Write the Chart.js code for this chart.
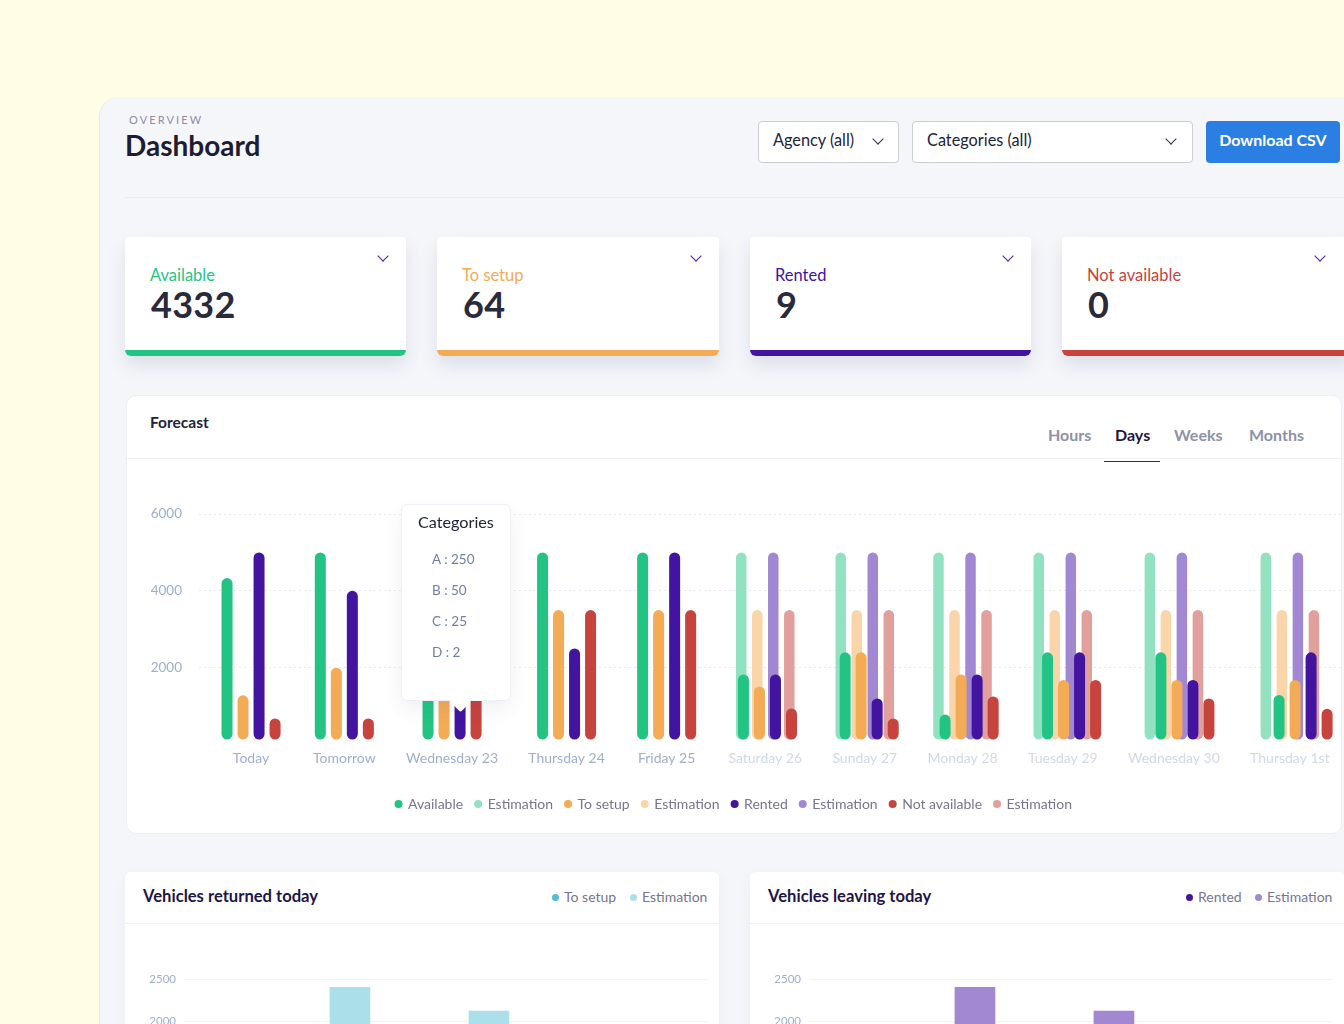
<!DOCTYPE html>
<html>
<head>
<meta charset="utf-8">
<script src="https://cdn.jsdelivr.net/npm/chart.js@4"></script>
<style>
* { box-sizing: border-box; }
html, body { margin: 0; height: 100%; overflow: hidden; background: #fffde6; font-family: Lato, sans-serif; }
#panel { left: 99px; top: 97px; width: 1400px; height: 1100px; background: #f4f6fa; border-radius: 20px 0 0 0; border-left: 1px solid #e6e9f0; position: absolute; }
.el { position: absolute; white-space: nowrap; }
.card { position: absolute; background: #fff; }
.stat { top: 237px; height: 119px; border-radius: 4px 4px 6px 6px; box-shadow: 0 10px 18px rgba(60,70,110,.12); overflow: hidden; }
.stat .bar { position: absolute; left: 0; right: 0; bottom: 0; height: 6px; }
.stat .lab { position: absolute; left: 25px; top: 28px; font-size: 16.5px; }
.stat .num { position: absolute; left: 26px; top: 45px; font-size: 36px; font-weight: 700; color: #2a2a3c; letter-spacing: .3px; }
.chev { position: absolute; width: 8px; height: 8px; border-right: 1.5px solid #4a1fa8; border-bottom: 1.5px solid #4a1fa8; transform: rotate(45deg) scale(1,1); }
.select { top: 121px; height: 42px; background: #fff; border: 1px solid #c9cedb; border-radius: 4px; font-size: 16.3px; color: #23233c; line-height: 35px; padding-left: 14px; }
.select .chev { border-color: #30304a; top: 13px; }
.tab { top: 425px; font-size: 16px; font-weight: 700; color: #8d92a6; }
.smallcard { top: 872px; height: 300px; border-radius: 6px; box-shadow: 0 4px 14px rgba(60,70,110,.05); }
.smallcard .line { position: absolute; left: 0; right: 0; top: 51px; height: 1px; background: #eceff6; }
.smallcard .ttl { position: absolute; left: 18px; top: 14px; font-size: 16.6px; font-weight: 700; color: #1f1547; }
.lg { position: absolute; top: 16px; font-size: 14px; color: #77758f; white-space: nowrap; }
.dot { position: absolute; top: 22px; width: 7px; height: 7px; border-radius: 50%; }
canvas { display: block; }
#tip { position: absolute; left: 401px; top: 504px; width: 110px; height: 197px; background: #fff; border: 1px solid #edf0f7; border-radius: 6px; box-shadow: 0 8px 18px rgba(60,70,110,.08); z-index: 5; }
#tip:after { content: ""; position: absolute; left: 51px; top: 189px; width: 15px; height: 15px; background: #fff; transform: rotate(45deg); border-radius: 2px; }
#tip .t { position: absolute; left: 16px; top: 7px; font-size: 16.2px; color: #22243c; }
#tip .r { position: absolute; left: 30px; font-size: 13.5px; color: #6f7fa3; }
</style>
</head>
<body>
<div id="panel"></div>

<div class="el" style="left:129px;top:113px;font-size:11px;letter-spacing:2.1px;color:#8f8da5">OVERVIEW</div>
<div class="el" style="left:125px;top:128px;font-size:28px;font-weight:700;color:#1e1c30">Dashboard</div>

<div class="select el" style="left:758px;width:141px">Agency (all)<span class="chev" style="left:115px"></span></div>
<div class="select el" style="left:912px;width:281px">Categories (all)<span class="chev" style="left:254px"></span></div>
<div class="el" style="left:1206px;top:121px;width:134px;height:42px;background:#2b7fe3;border-radius:4px;color:#fff;font-size:16px;font-weight:700;text-align:center;line-height:37px">Download CSV</div>
<div class="el" style="left:125px;top:197px;width:1219px;height:1px;background:#e8ebf3"></div>

<div class="card stat" style="left:125px;width:281px"><div class="lab" style="color:#25c486">Available</div><div class="num">4332</div><span class="chev" style="left:254px;top:15px"></span><div class="bar" style="background:#23c483"></div></div>
<div class="card stat" style="left:437px;width:282px"><div class="lab" style="color:#f3ab56">To setup</div><div class="num">64</div><span class="chev" style="left:255px;top:15px"></span><div class="bar" style="background:#f3ab56"></div></div>
<div class="card stat" style="left:750px;width:281px"><div class="lab" style="color:#43149f">Rented</div><div class="num">9</div><span class="chev" style="left:254px;top:15px"></span><div class="bar" style="background:#43149f"></div></div>
<div class="card stat" style="left:1062px;width:290px"><div class="lab" style="color:#c6433e">Not available</div><div class="num">0</div><span class="chev" style="left:254px;top:15px"></span><div class="bar" style="background:#c6433e"></div></div>

<div class="card" style="left:126px;top:395px;width:1216px;height:439px;border:1px solid #eceff6;border-radius:10px"></div>
<div class="el" style="left:127px;top:458px;width:1215px;height:1px;background:#eef0f6"></div>
<div class="el" style="left:150px;top:413px;font-size:15.5px;font-weight:700;color:#23233c">Forecast</div>
<div class="el tab" style="left:1048px">Hours</div>
<div class="el tab" style="left:1115px;color:#1f1547">Days</div>
<div class="el tab" style="left:1174px">Weeks</div>
<div class="el tab" style="left:1249px">Months</div>
<div class="el" style="left:1104px;top:461px;width:56px;height:1px;background:#43149f"></div>

<div style="position:absolute;left:127px;top:460px;width:1214px;height:373px"><canvas id="forecast"></canvas></div>

<div id="tip">
  <div class="t">Categories</div>
  <div class="r" style="top:46px">A : 250</div>
  <div class="r" style="top:77px">B : 50</div>
  <div class="r" style="top:108px">C : 25</div>
  <div class="r" style="top:139px">D : 2</div>
</div>

<div class="card smallcard" style="left:125px;width:594px">
  <div class="line"></div>
  <div class="ttl">Vehicles returned today</div>
  <span class="dot" style="left:427px;background:#54bcd4"></span><span class="lg" style="left:439px">To setup</span>
  <span class="dot" style="left:505px;background:#abe0ea"></span><span class="lg" style="left:517px">Estimation</span>
  <div style="position:absolute;left:0;top:52px;width:594px;height:290px"><canvas id="returned"></canvas></div>
</div>
<div class="card smallcard" style="left:750px;width:594px">
  <div class="line"></div>
  <div class="ttl">Vehicles leaving today</div>
  <span class="dot" style="left:436px;background:#43149f"></span><span class="lg" style="left:448px">Rented</span>
  <span class="dot" style="left:505px;background:#a288d3"></span><span class="lg" style="left:517px">Estimation</span>
  <div style="position:absolute;left:0;top:52px;width:594px;height:290px"><canvas id="leaving"></canvas></div>
</div>

<script>
// forecast values
var categories = ['Today', 'Tomorrow', 'Wednesday 23', 'Thursday 24', 'Friday 25', 'Saturday 26',
  'Sunday 27', 'Monday 28', 'Tuesday 29', 'Wednesday 30', 'Thursday 1st'];
var available = [4332, 5000, 5000, 5000, 5000, 1825, 2400, 780, 2400, 2400, 1290];
var toSetup = [1280, 2000, 3500, 3500, 3500, 1510, 2400, 1825, 1680, 1680, 1680];
var rented = [5000, 4000, 3500, 2500, 5000, 1825, 1200, 1825, 2400, 1680, 2400];
var notAvailable = [680, 680, 3500, 3500, 3500, 940, 680, 1250, 1680, 1200, 930];
var availableEstimation = [null, null, null, null, null, 5000, 5000, 5000, 5000, 5000, 5000];
var toSetupEstimation = [null, null, null, null, null, 3500, 3500, 3500, 3500, 3500, 3500];
var rentedEstimation = [null, null, null, null, null, 5000, 5000, 5000, 5000, 5000, 5000];
var notAvailableEstimation = [null, null, null, null, null, 3500, 3500, 3500, 3500, 3500, 3500];
var forecastTicks = [2000, 4000, 6000];

// small charts, only the tops above 2000 are on screen
var returnedEstimation = [null, 2400, 2120, null];
var leavingEstimation = [null, 2400, 2120, null];

Chart.defaults.animation = false;
Chart.defaults.font.family = 'Lato, sans-serif';

// columns are as wide as their label, like the flex row in the dashboard
var measure = document.createElement('canvas').getContext('2d');
measure.font = '14px Lato';
var columnWidths = categories.map(function(c) {
  return Math.max(63, measure.measureText(c).width) + 30.2;
});
var columnCenters = [];
var walked = 5.4;
columnWidths.forEach(function(w) {
  columnCenters.push(walked + w / 2);
  walked += w;
});

// the solid bars slide a little to the right of the future columns
function solidX(i, slot) {
  return columnCenters[i] + Math.max(0, i - 4) * 2.2 + (slot - 1.5) * 16;
}
function estX(i, slot) {
  return columnCenters[i] + (slot - 1.5) * 16;
}

function bars(label, values, color, slot, order, width, xFn) {
  return {
    label: label,
    data: values.map(function(v, i) { return { x: xFn(i, slot), y: v }; }),
    backgroundColor: color,
    order: order,
    base: 130,
    grouped: false,
    barPercentage: 100,   // ungrouped width comes from the tightest spacing, the max caps it
    maxBarThickness: width,
    borderRadius: 6,
    borderSkipped: false,
    inflateAmount: 0
  };
}

new Chart(document.getElementById('forecast'), {
  type: 'bar',
  data: {
    datasets: [
      bars('Available', available, '#23c483', 0, 1, 11, solidX),
      bars('Estimation', availableEstimation, '#92e2c2', 0, 2, 10.5, estX),
      bars('To setup', toSetup, '#f3ab56', 1, 1, 11, solidX),
      bars('Estimation', toSetupEstimation, '#f9d5a9', 1, 2, 10.5, estX),
      bars('Rented', rented, '#43149f', 2, 1, 11, solidX),
      bars('Estimation', rentedEstimation, '#a288d3', 2, 2, 10.5, estX),
      bars('Not available', notAvailable, '#c6433e', 3, 1, 11, solidX),
      bars('Estimation', notAvailableEstimation, '#e2a09d', 3, 2, 10.5, estX)
    ]
  },
  options: {
    responsive: true,
    maintainAspectRatio: false,
    layout: { padding: { top: 54, bottom: 12 } },
    scales: {
      x: {
        type: 'linear', min: 0, max: 1141, offset: false,
        grid: { display: false, drawTicks: false }, border: { display: false },
        afterBuildTicks: function(axis) {
          axis.ticks = columnCenters.map(function(c) { return { value: c }; });
        },
        afterFit: function(axis) { axis.height = 40; },
        ticks: {
          autoSkip: false, maxRotation: 0, padding: 6, font: { size: 14 },
          color: function(ctx) { return ctx.index > 4 ? '#d0d8ea' : '#9eafcf'; },
          callback: function(v, i) { return categories[i]; }
        }
      },
      y: {
        min: 0, max: 6000,
        afterBuildTicks: function(axis) {
          axis.ticks = forecastTicks.map(function(v) { return { value: v }; });
        },
        afterFit: function(axis) { axis.width = 72; },
        grid: { color: '#e6e9f2', drawTicks: false },
        border: { display: false, dash: [2, 3] },
        ticks: {
          color: '#9eafcf', padding: 17, font: { size: 13.5 },
          callback: function(v) { return String(v); }
        }
      }
    },
    plugins: {
      tooltip: { enabled: false },
      legend: {
        position: 'bottom',
        labels: {
          usePointStyle: true, pointStyle: 'circle', boxWidth: 5, boxHeight: 5.7,
          padding: 12.5, color: '#77758f', font: { size: 14 },
          sort: function(a, b) { return a.datasetIndex - b.datasetIndex; }
        }
      }
    }
  }
});

function smallChart(id, values, color) {
  new Chart(document.getElementById(id), {
    type: 'bar',
    data: {
      datasets: [{
        label: 'Estimation',
        data: values.map(function(v, i) { return { x: i, y: v }; }),
        backgroundColor: color,
        barThickness: 40
      }]
    },
    options: {
      responsive: true,
      maintainAspectRatio: false,
      layout: { padding: { top: 55, right: 11, bottom: 24 } },
      scales: {
        x: { type: 'linear', min: -0.194, max: 3.576, offset: false, display: false },
        y: {
          min: 0, max: 2500,
          afterFit: function(axis) { axis.width = 59; },
          grid: { color: '#f2f4f8', drawTicks: false },
          border: { display: false },
          ticks: {
            stepSize: 500, color: '#9eafcf', padding: 8, font: { size: 11.5 },
            callback: function(v) { return String(v); }
          }
        }
      },
      plugins: { legend: { display: false }, tooltip: { enabled: false } }
    }
  });
}
smallChart('returned', returnedEstimation, '#abe0ea');
smallChart('leaving', leavingEstimation, '#a288d3');
</script>
</body>
</html>
